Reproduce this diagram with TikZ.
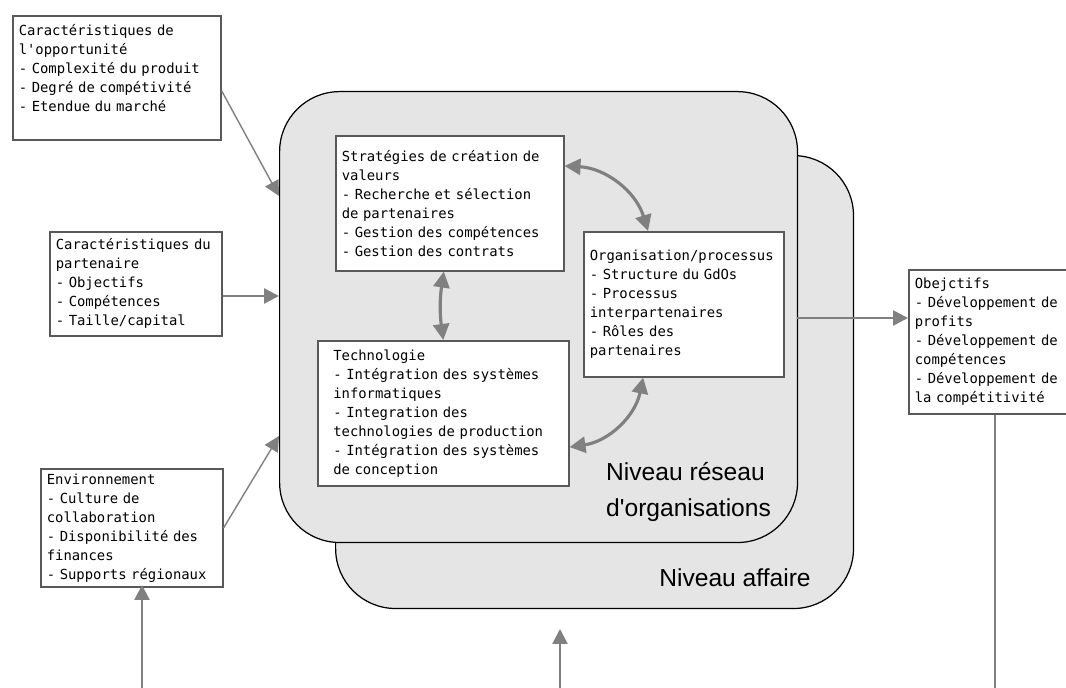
\documentclass[tikz,border=0pt]{standalone}
\usepackage{fontspec}
\newfontfamily\boxfont{DejaVu Sans Mono}[Ligatures=TeXOff]
\newfontfamily\levelfont{Liberation Sans}[Ligatures=TeXOff]
\usetikzlibrary{arrows.meta}
\definecolor{levelgray}{gray}{0.9}
\definecolor{boxgray}{gray}{0.35}
\definecolor{arrowgray}{gray}{0.5}

\begin{document}
\begin{tikzpicture}[x=0.02cm, y=-0.02cm,
  level/.style={draw, line width=0.7pt, fill=levelgray, rounded corners=1.2cm, anchor=north west, inner sep=0pt, minimum width=10.36cm},
  box/.style={draw=boxgray, line width=0.9pt, fill=white, anchor=north west, align=left, inner xsep=0.12cm, inner ysep=0.1cm, font={\boxfont\fontsize{7.9}{10.8}\selectfont}},
  arrow/.style={arrowgray, line width=1.5pt, -{Triangle[length=3mm,width=3mm]}},
  thinarrow/.style={arrowgray, line width=0.8pt, -{Triangle[length=3mm,width=3mm]}},
  dblarrow/.style={arrowgray, line width=1.8pt, {Triangle[length=3.2mm,width=3.2mm]}-{Triangle[length=3.2mm,width=3.2mm]}},
  feedback/.style={arrowgray, line width=1.2pt}]
\useasboundingbox (0,0) rectangle (1066,688);
\clip (0,0) rectangle (1066,688);

% the two levels
\node[level, minimum height=9.06cm] (affaire) at (335,155) {};
\node[level, minimum height=9.02cm] (reseau) at (279,91) {};
\node[font=\levelfont\fontsize{14}{20}\selectfont] at (735,578) {Niveau affaire};
\node[font=\levelfont\fontsize{14}{20}\selectfont, align=left, anchor=west] at (600,492) {Niveau réseau\\d'organisations};

% inputs
\node[box, text width=3.92cm, minimum height=2.48cm] (opport) at (12,15)
  {Caractéristiques de\\l'opportunité\\- Complexité du produit\\- Degré de compétivité\\- Etendue du marché\\ \mbox{}};
\node[box, text width=3.2cm, minimum height=2.08cm] (partner) at (49,231)
  {Caractéristiques du\\partenaire\\- Objectifs\\- Compétences\\- Taille/capital};
\node[box, text width=3.4cm, minimum height=2.34cm] (envir) at (40,468)
  {Environnement\\- Culture de\\collaboration\\- Disponibilité des\\finances\\- Supports régionaux};

% inside the network level
\node[box, text width=4.32cm, minimum height=2.7cm] (strat) at (335,135)
  {Stratégies de création de\\valeurs\\- Recherche et sélection\\de partenaires\\- Gestion des compétences\\- Gestion des contrats};
\node[box, text width=4.4cm, minimum width=5.02cm, minimum height=2.9cm] (techno) at (317,340)
  {Technologie\\- Intégration des systèmes\\informatiques\\- Integration des\\technologies de production\\- Intégration des systèmes\\de conception};
\node[box, text width=3.76cm, minimum height=2.9cm] (orga) at (583,231)
  {Organisation/processus\\- Structure du GdOs\\- Processus\\interpartenaires\\- Rôles des\\partenaires};

% output
\node[box, text width=3.2cm, minimum height=2.88cm] (objectifs) at (908,269)
  {Obejctifs\\- Développement de\\profits\\- Développement de\\compétences\\- Développement de\\la compétitivité};

\coordinate (inA) at (279,196);
\coordinate (inB) at (279,296);
\coordinate (inC) at (279,436);
\coordinate (outR) at (797,318);
\coordinate (fb) at (0,692);
\coordinate (envin) at (142,585);
\coordinate (midtip) at (560,629);

\draw[thinarrow] (opport.-7) -- (inA);
\draw[arrow] (partner.east |- inB) -- (inB);
\draw[thinarrow] (envir.east) -- (inC);
\draw[arrow] (outR) -- (outR -| objectifs.west);

\draw[dblarrow] (strat.18) to[bend left=35] (orga.116);
\draw[dblarrow] (strat.-95) to[bend right=8] (techno.north);
\draw[dblarrow] (techno.-15) to[bend right=35] (orga.-119);

% feedback loop
\draw[feedback] (objectifs.south) |- (envin |- fb);
\draw[arrow] (envin |- fb) -- (envin);
\draw[arrow] (midtip |- fb) -- (midtip);
\end{tikzpicture}
\end{document}
